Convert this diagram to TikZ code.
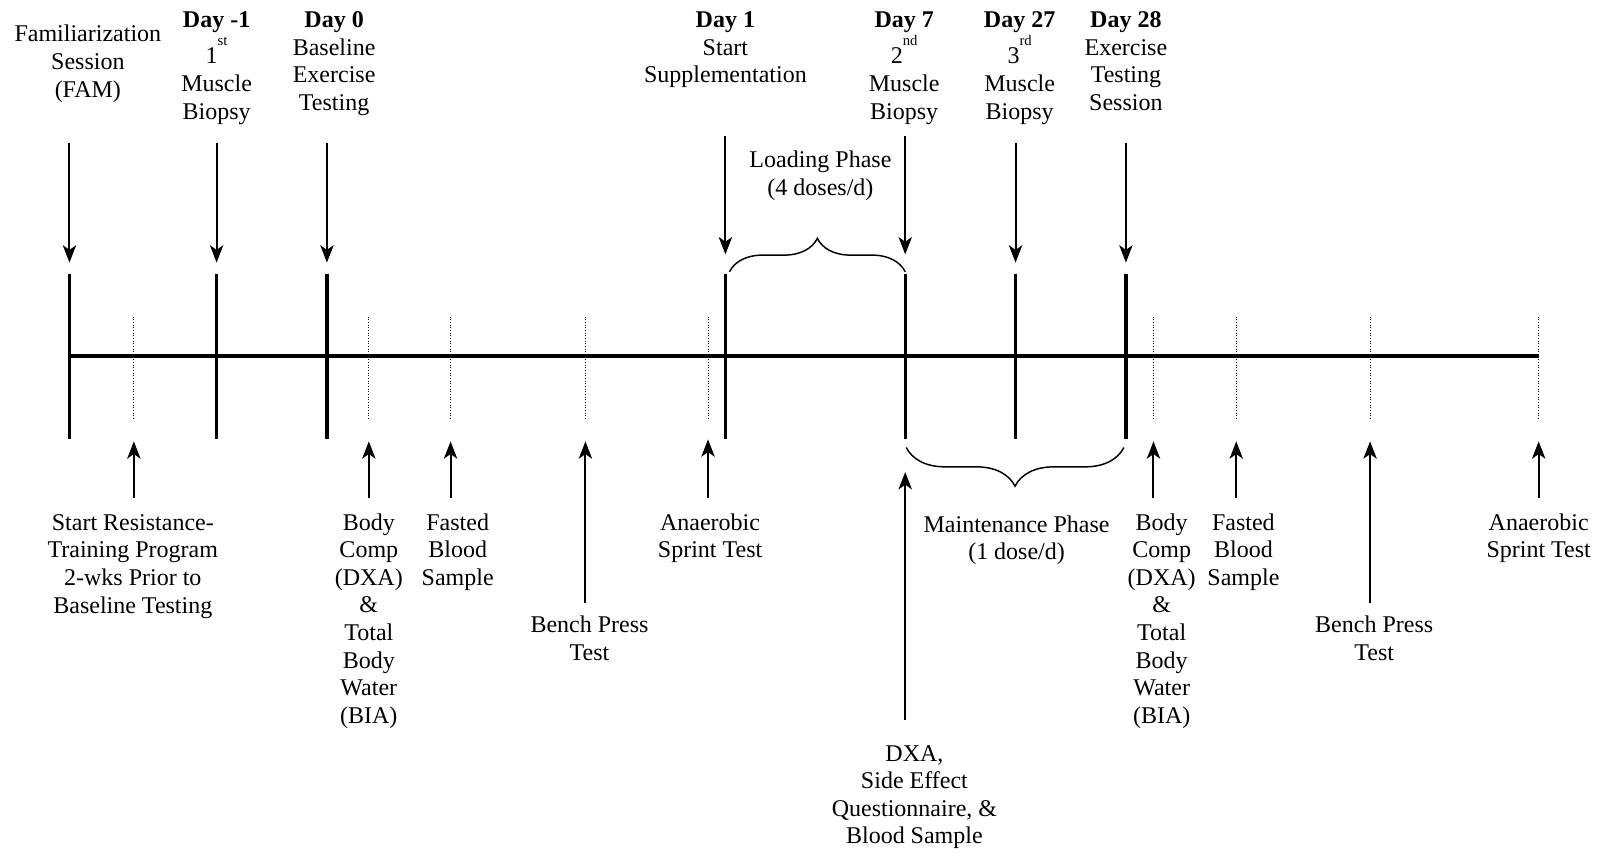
\documentclass[tikz,border=0pt]{standalone}
\usepackage{fontspec}
\setmainfont{Liberation Serif}
\usetikzlibrary{arrows.meta,decorations.pathreplacing}
\newcommand\supr[1]{\smash{\raisebox{0.75em}{\fontsize{11}{11}\selectfont #1}}}
\begin{document}
\begin{tikzpicture}[x=0.7663pt,y=-0.7663pt,
  lbl/.style={align=center,font=\fontsize{18}{20.7}\selectfont,inner sep=0pt,anchor=base},
  axis/.style={line width=3pt},
  tk/.style={line width=2.4pt},
  dt/.style={line width=0.8pt,dash pattern=on 0.8pt off 1.2pt},
  arr/.style={line width=1.5pt,-{Stealth[length=13pt,width=10pt,inset=3.5pt]}},
  brc/.style={line width=1.1pt,decorate,decoration={brace,amplitude=#1}}]
\useasboundingbox (0,0) rectangle (1568,836);
% axis
\coordinate (a0) at (68,348);
\coordinate (a1) at (1506,348);
\draw[axis] (a0) -- (a1);
% solid ticks
\foreach \n/\x in {fam/68,dm1/212,d0/320,d1/710,d7/886,d27/994,d28/1102}{
  \coordinate (\n t) at (\x,268);
  \coordinate (\n b) at (\x,430);
  \draw[tk] (\n t) -- (\n b);
}
% dotted ticks
\foreach \n/\x in {srt/131,bc1/361,fb1/441,bp1/573,an1/693,bc2/1129,fb2/1210,bp2/1341,an2/1506}{
  \coordinate (\n t) at (\x,310);
  \coordinate (\n b) at (\x,410);
  \draw[dt] (\n t) -- (\n b);
}
% top labels (anchored at baseline of last line)
\node[lbl] (famL) at (86,95) {Familiarization\\Session\\(FAM)};
\node[lbl] (dm1L) at (212,117) {\textbf{Day -1}\\[5.7pt]1\supr{st}\\[1pt]Muscle\\Biopsy};
\node[lbl] (d0L) at (327,108) {\textbf{Day 0}\\Baseline\\Exercise\\Testing};
\node[lbl] (d1L) at (710,81) {\textbf{Day 1}\\Start\\Supplementation};
\node[lbl] (d7L) at (885,117) {\textbf{Day 7}\\[5.7pt]2\supr{nd}\\[1pt]Muscle\\Biopsy};
\node[lbl] (d27L) at (998,117) {\textbf{Day 27}\\[5.7pt]3\supr{rd}\\[1pt]Muscle\\Biopsy};
\node[lbl] (d28L) at (1102,108) {\textbf{Day 28}\\Exercise\\Testing\\Session};
\node[lbl] (loadL) at (803,191) {Loading Phase\\(4 doses/d)};
% top arrows
\foreach \n/\x/\ya/\yb in {fam/68/140/257,dm1/212/140/257,d0/320/140/257,d1/710/133/249,d7/886/133/249,d27/994/140/257,d28/1102/140/257}{
  \coordinate (\n s) at (\x,\ya);
  \coordinate (\n e) at (\x,\yb);
  \draw[arr] (\n s) -- (\n e);
}
% braces
\coordinate (lb0) at (714,266);
\coordinate (lb1) at (886,266);
\draw[brc=25pt] (lb0) -- (lb1);
\coordinate (mb0) at (1100,438);
\coordinate (mb1) at (887,438);
\draw[brc=29pt] (mb0) -- (mb1);
\node[lbl] (mainL) at (995,548) {Maintenance Phase\\(1 dose/d)};
% bottom labels
\node[lbl] (srtL) at (130,600) {Start Resistance-\\Training Program\\2-wks Prior to\\Baseline Testing};
\node[lbl] (bc1L) at (361,708) {Body\\Comp\\(DXA)\\\&\\Total\\Body\\Water\\(BIA)};
\node[lbl] (fb1L) at (448,573) {Fasted\\Blood\\Sample};
\node[lbl] (bp1L) at (577,646) {Bench Press\\Test};
\node[lbl] (an1L) at (695,546) {Anaerobic\\Sprint Test};
\node[lbl] (dxaL) at (895,826) {DXA,\\Side Effect\\Questionnaire, \&\\Blood Sample};
\node[lbl] (bc2L) at (1137,708) {Body\\Comp\\(DXA)\\\&\\Total\\Body\\Water\\(BIA)};
\node[lbl] (fb2L) at (1217,573) {Fasted\\Blood\\Sample};
\node[lbl] (bp2L) at (1345,646) {Bench Press\\Test};
\node[lbl] (an2L) at (1506,546) {Anaerobic\\Sprint Test};
% bottom arrows
\foreach \n/\x/\ya/\yb in {srt/131/487/432,bc1/361/487/432,fb1/441/487/432,bp1/573/590/432,an1/693/487/430,dxa/886/705/462,bc2/1129/487/432,fb2/1210/487/432,bp2/1341/590/432,an2/1506/487/432}{
  \coordinate (\n s) at (\x,\ya);
  \coordinate (\n e) at (\x,\yb);
  \draw[arr] (\n s) -- (\n e);
}
\end{tikzpicture}
\end{document}
